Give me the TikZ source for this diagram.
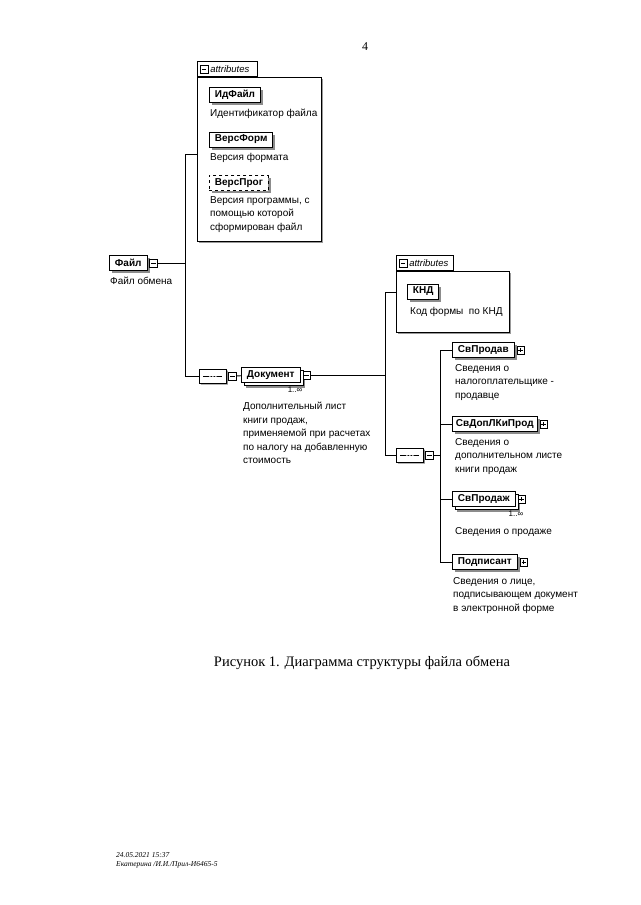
\documentclass[tikz,border=0pt]{standalone}
\usepackage{fontspec}
\setmainfont{Liberation Serif}
\setsansfont{Liberation Sans}
\usetikzlibrary{positioning,shapes.misc,shadows}
\tikzset{
  elembase/.style={rectangle, draw=black, line width=0.9pt, fill=white,
               font=\sffamily\bfseries\fontsize{10}{12}\selectfont,
               minimum height=15pt, inner xsep=5.5pt, inner ysep=1pt},
  elem/.style={elembase, drop shadow={shadow xshift=2.5pt, shadow yshift=-2.5pt,
               fill=black!45, opacity=1}},
  optelem/.style={elem, dashed},
  multielem/.style={elembase,
               general shadow={shadow xshift=5pt, shadow yshift=-5pt, fill=black!45},
               copy shadow={shadow xshift=3pt, shadow yshift=-3pt}},
  tminus/.style={rectangle, draw=black, line width=0.5pt, fill=white,
               minimum size=7.5pt, inner sep=0pt,
               path picture={\draw[line width=0.6pt]
                 ([xshift=1.5pt]path picture bounding box.west) --
                 ([xshift=-1.5pt]path picture bounding box.east);}},
  tplus/.style={tminus,
               path picture={\draw[line width=0.6pt]
                 ([xshift=1.5pt]path picture bounding box.west) --
                 ([xshift=-1.5pt]path picture bounding box.east)
                 ([yshift=-1.5pt]path picture bounding box.north) --
                 ([yshift=1.5pt]path picture bounding box.south);}},
  seqbox/.style={chamfered rectangle, chamfered rectangle xsep=5pt,
               chamfered rectangle ysep=4pt, draw=black, line width=0.8pt,
               fill=white, minimum width=27pt, minimum height=14pt, inner sep=0pt,
               drop shadow={shadow xshift=1.5pt, shadow yshift=-1.5pt,
               fill=black!45, opacity=1},
               path picture={\draw[line width=0.6pt]
                 ([xshift=4pt]path picture bounding box.west) --
                 ([xshift=-4pt]path picture bounding box.east);
                 \foreach \dd in {-3,0,3}
                   \fill ([xshift=\dd pt]path picture bounding box.center) circle (1pt);}},
  attrbox/.style={rectangle, draw=black, line width=0.6pt, fill=white,
               drop shadow={shadow xshift=1.5pt, shadow yshift=-1.5pt,
               fill=black!40, opacity=1}},
  attrtab/.style={rectangle, draw=black, line width=0.6pt, fill=white,
               minimum height=15pt, inner sep=0pt, text depth=0pt,
               font=\sffamily\itshape\fontsize{9.5}{10}\selectfont},
  desc/.style={align=left, inner sep=0pt,
               font=\sffamily\fontsize{10}{13.6}\selectfont},
  mult/.style={inner sep=0pt, font=\sffamily\fontsize{8}{9}\selectfont},
  conn/.style={draw=black, line width=0.9pt},
}
\begin{document}
\begin{tikzpicture}[x=1pt, y=-1pt]
\fill[white] (0,0) rectangle (640,905);
\useasboundingbox (0,0) rectangle (640,905);

\node[font=\fontsize{12}{14}\selectfont] (pagenum) at (365,47) {4};

% root element
\node[elem, anchor=west] (file) at (109,263) {Файл};
\node[tminus, right=2pt of file] (fileT) {};
\node[desc, below right=6pt and 1pt of file.south west] (fileD) {Файл обмена};
\coordinate (busA) at (185,263);

% attributes of the root
\node[attrbox, anchor=north west, minimum width=124pt, minimum height=164pt]
      (attA) at (197,77) {};
\node[attrtab, anchor=south west, minimum width=60pt] (tabA) at (attA.north west) {};
\node[tminus, right=3pt of tabA.west] (tabAT) {};
\node[attrtab, draw=none, fill=none, right=2pt of tabAT] {attributes};

\node[elem, anchor=west] (idfile) at (209,95) {ИдФайл};
\node[desc, below right=6pt and 1pt of idfile.south west] (idfileD)
      {Идентификатор файла};
\node[elem, anchor=west] (verform) at (209,139.5) {ВерсФорм};
\node[desc, below right=6pt and 1pt of verform.south west] (verformD)
      {Версия формата};
\node[optelem, anchor=west] (verprog) at (209,183) {ВерсПрог};
\node[desc, below right=5pt and 1pt of verprog.south west] (verprogD)
      {Версия программы, с\\помощью которой\\сформирован файл};

% sequence of the root
\node[seqbox, anchor=west] (seqA) at (199,376) {};
\node[tminus, right=1.5pt of seqA] (seqAT) {};
\node[multielem, anchor=west] (doc) at (241,375) {Документ};
\node[tminus, right=2pt of doc] (docT) {};
\node[mult, below left=4pt and -2pt of doc.south east] (docM) {1..∞};
\node[desc, below right=19pt and 2pt of doc.south west] (docD)
      {Дополнительный лист\\книги продаж,\\применяемой при расчетах\\по налогу на добавленную\\стоимость};
\coordinate (busB) at (385,375);

% attributes of the document
\node[attrbox, anchor=north west, minimum width=113pt, minimum height=61pt]
      (attB) at (396,271) {};
\node[attrtab, anchor=south west, minimum width=57pt] (tabB) at (attB.north west) {};
\node[tminus, right=3pt of tabB.west] (tabBT) {};
\node[attrtab, draw=none, fill=none, right=2pt of tabBT] {attributes};
\node[elem, anchor=west] (knd) at (407,291.5) {КНД};
\node[desc, below right=8pt and 3pt of knd.south west] (kndD) {Код формы\ \ по КНД};

% sequence of the document
\node[seqbox, anchor=west] (seqB) at (396,455) {};
\node[tminus, right=1.5pt of seqB] (seqBT) {};
\coordinate (busC) at (440,455);

\node[elem, anchor=west] (sellr) at (452,350) {СвПродав};
\node[tplus, right=2pt of sellr] (sellrT) {};
\node[desc, below right=6pt and 3pt of sellr.south west] (sellrD)
      {Сведения о\\налогоплательщике -\\продавце};
\node[elem, anchor=west, inner xsep=3.5pt] (extra) at (452,424) {СвДопЛКиПрод};
\node[tplus, right=2pt of extra] (extraT) {};
\node[desc, below right=6pt and 3pt of extra.south west] (extraD)
      {Сведения о\\дополнительном листе\\книги продаж};
\node[multielem, anchor=west] (sale) at (452,499) {СвПродаж};
\node[tplus, right=2pt of sale] (saleT) {};
\node[mult, below left=4pt and -8pt of sale.south east] (saleM) {1..∞};
\node[desc, below right=20pt and 3pt of sale.south west] (saleD)
      {Сведения о продаже};
\node[elem, anchor=west] (signer) at (452,562) {Подписант};
\node[tplus, right=2pt of signer] (signerT) {};
\node[desc, below right=7pt and 1pt of signer.south west] (signerD)
      {Сведения о лице,\\подписывающем документ\\в электронной форме};

% connectors
\draw[conn] (fileT) -- (busA);
\draw[conn] (busA) |- ([yshift=5pt]attA.west);
\draw[conn] (busA) |- (seqA.west);
\draw[conn] (seqAT) -- (doc);
\draw[conn] (docT) -- (busB);
\draw[conn] (busB) |- ([yshift=9pt]attB.west);
\draw[conn] (busB) |- (seqB.west);
\draw[conn] (seqBT) -- (busC);
\draw[conn] (busC) |- (sellr.west);
\draw[conn] (busC) |- (extra.west);
\draw[conn] (busC) |- (sale.west);
\draw[conn] (busC) |- (signer.west);

\node[font=\fontsize{14.5}{17}\selectfont] (caption) at (362,663)
      {Рисунок 1. Диаграмма структуры файла обмена};
\node[align=left, inner sep=0pt, anchor=north west,
      font=\itshape\fontsize{7.5}{9}\selectfont] (stamp) at (116,852)
      {24.05.2021 15:37\\Екатерина /И.И./Прил-И6465-5};
\end{tikzpicture}
\end{document}
